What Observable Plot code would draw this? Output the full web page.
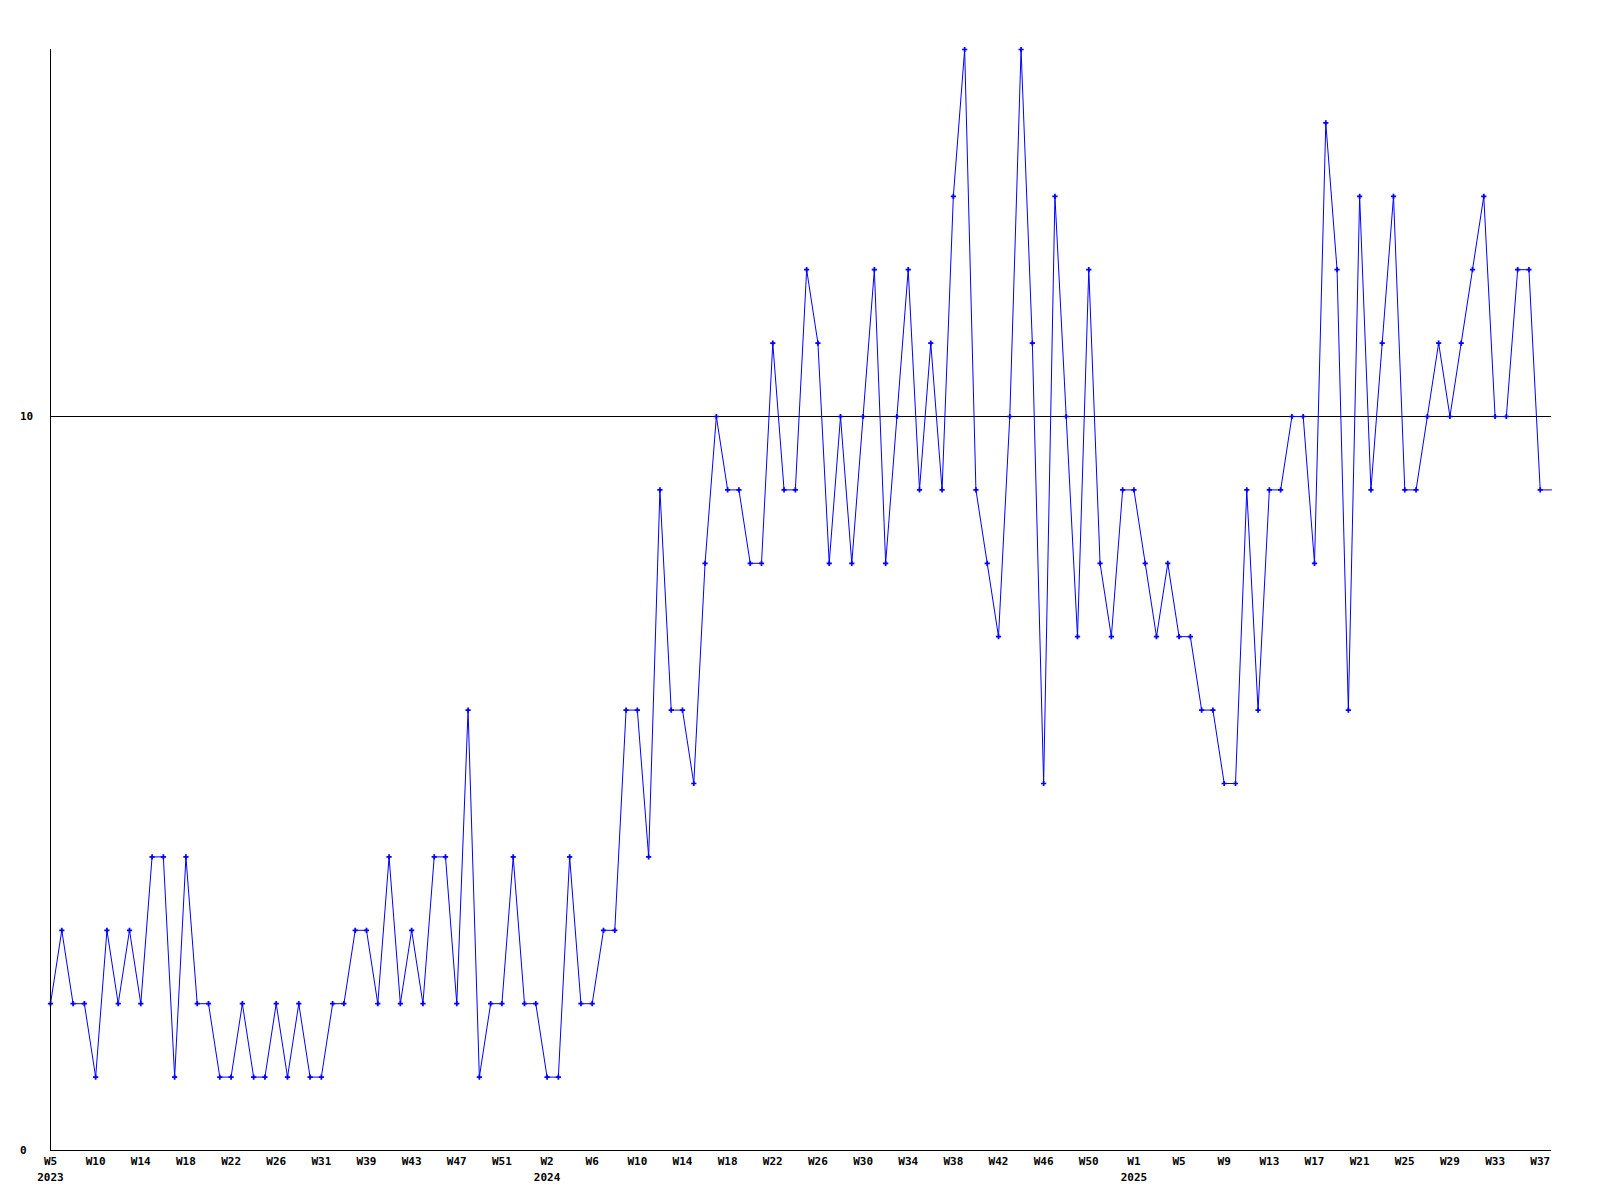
<!DOCTYPE html>
<html>
<head>
<meta charset="utf-8">
<script src="https://cdn.jsdelivr.net/npm/d3@7"></script>
<script src="https://cdn.jsdelivr.net/npm/@observablehq/plot@0.6"></script>
<style>
  html, body { margin: 0; padding: 0; background: #ffffff; }
  #chart svg { display: block; }
</style>
</head>
<body>
<div id="chart"></div>
<script>
// Weekly values, one per plotted point (ordinal weeks, 2023 W5 .. 2025 W38)
const values = [
  2,3,2,2,1,3,2,3,2,4,4,1,4,2,2,1,1,2,1,1,2,1,2,
  1,1,2,2,3,3,2,4,2,3,2,4,4,2,6,1,2,2,4,2,2,1,1,
  4,2,2,3,3,6,6,4,9,6,6,5,8,10,9,9,8,8,11,9,9,
  12,11,8,10,8,10,12,8,10,12,9,11,9,13,15,9,8,7,10,15,11,5,13,
  10,7,12,8,7,9,9,8,7,8,7,7,6,6,5,5,9,6,9,9,10,
  10,8,14,12,6,13,9,11,13,9,9,10,11,10,11,12,13,10,10,12,12,9,9
];

// Tick labels, one every 4 points
const tickLabels = [
  "W5","W10","W14","W18","W22","W26","W31","W39","W43","W47","W51",
  "W2","W6","W10","W14","W18","W22","W26","W30","W34","W38","W42","W46","W50",
  "W1","W5","W9","W13","W17","W21","W25","W29","W33","W37"
];
const yearTickPositions = [0, 11, 24];
const yearLabels = ["2023", "2024", "2025"];

const yTicks = [0, 10];
const refLine = [10];

const data = values.map((v, i) => ({i, v}));
const tickIdx = tickLabels.map((_, k) => k * 4);
const labelFor = (d) => {
  const k = tickIdx.indexOf(d);
  const yk = yearTickPositions.indexOf(k);
  return yk >= 0 ? tickLabels[k] + "\n" + yearLabels[yk] : tickLabels[k];
};

const chart = Plot.plot({
  width: 1600,
  height: 1200,
  marginLeft: 50,
  marginRight: 49,
  marginTop: 49,
  marginBottom: 50,
  style: {
    fontFamily: "'DejaVu Sans Mono', monospace",
    fontWeight: "bold",
    fontSize: "11px",
    background: "#ffffff",
    color: "#000000"
  },
  x: {domain: [0, values.length - 1], axis: null},
  y: {domain: [0, 15], axis: null},
  marks: [
    Plot.ruleY(refLine, {stroke: "#000000", strokeWidth: 1}),
    Plot.line(data, {x: "i", y: "v", stroke: "#0000ff", strokeWidth: 1}),
    Plot.dot(data.slice(0, -1), {x: "i", y: "v", symbol: "cross", r: 2.2, fill: "#0000ff", stroke: "none"}),
    Plot.ruleX([0], {stroke: "#000000", strokeWidth: 1}),
    Plot.ruleY([0], {stroke: "#000000", strokeWidth: 1}),
    Plot.axisY({ticks: yTicks, label: null, tickSize: 0, tickPadding: 30.5, textAnchor: "start", tickFormat: d => String(d), fill: "#000000"}),
    Plot.axisX({ticks: tickIdx, label: null, tickSize: 0, tickPadding: 4, tickFormat: labelFor, lineHeight: 1.4, fill: "#000000"})
  ]
});

document.getElementById("chart").appendChild(chart);
</script>
</body>
</html>
